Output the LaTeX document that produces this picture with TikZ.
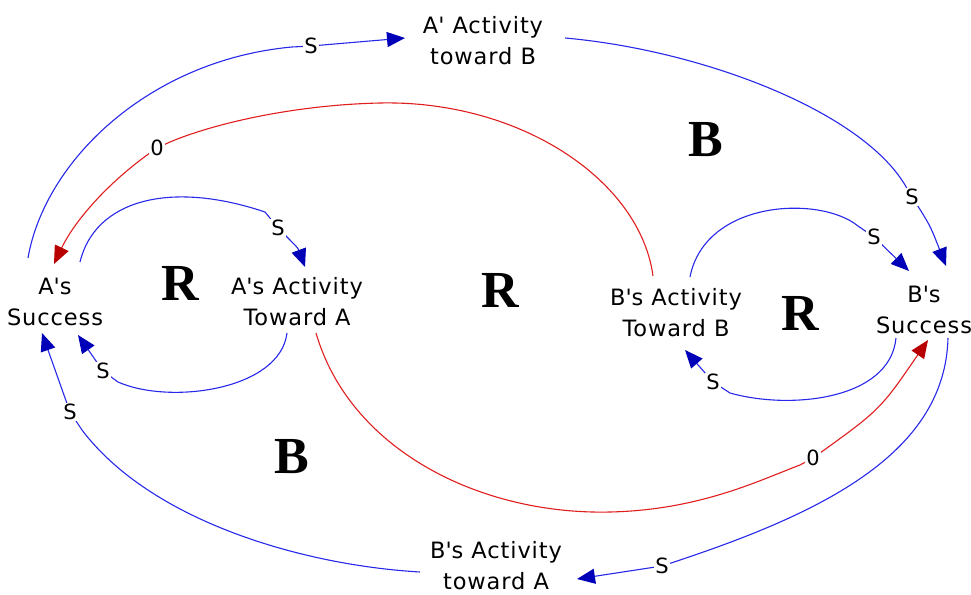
\documentclass[tikz,border=0pt]{standalone}
\usepackage{fontspec}
\setmainfont{DejaVu Sans}[LetterSpace=4]
\newfontfamily\bigserif{Liberation Serif}
\usetikzlibrary{arrows.meta}
\definecolor{lnblue}{RGB}{40,40,235}
\definecolor{hdblue}{RGB}{0,0,185}
\definecolor{lnred}{RGB}{225,30,30}
\definecolor{hdred}{RGB}{185,0,0}
\newcommand{\ap}{\textquotesingle}
\begin{document}
\begin{tikzpicture}[x=1pt,y=-1pt,
  var/.style={align=center,inner sep=0pt,font=\fontsize{22.5}{31}\selectfont},
  looplbl/.style={inner sep=0pt,font=\bigserif\bfseries\fontsize{52}{52}\selectfont},
  sgn/.style={fill=white,inner sep=1.5pt,font=\fontsize{21}{21}\selectfont},
  bluelink/.style={draw=lnblue,line width=1.1pt,-{Triangle[length=18pt,width=15pt,color=hdblue]}},
  redlink/.style={draw=lnred,line width=1.1pt,-{Triangle[length=18pt,width=15pt,color=hdred]}}]
\useasboundingbox (0,0) rectangle (971,594);
\fill[white] (0,0) rectangle (971,594);

% variables
\node[var] (as) at (55,302) {A\ap s\\Success};
\node[var] (aa) at (297,302) {A\ap s Activity\\Toward A};
\node[var] (bb) at (676,313) {B\ap s Activity\\Toward B};
\node[var] (bs) at (924,310) {B\ap s\\Success};
\node[var] (ab) at (483,41) {A\ap{} Activity\\toward B};
\node[var] (ba) at (496,566) {B\ap s Activity\\toward A};

% loop labels
\node[looplbl] (l1) at (706,140) {B};
\node[looplbl] (l2) at (180,283) {R};
\node[looplbl] (l3) at (500,290) {R};
\node[looplbl] (l4) at (800,313) {R};
\node[looplbl] (l5) at (292,457) {B};

% connector end points
\coordinate (as-o1) at (28,258);
\coordinate (ab-i) at (405,38);
\coordinate (ab-o) at (565,38);
\coordinate (bs-i1) at (946,266);
\coordinate (bb-o1) at (653,276);
\coordinate (as-i1) at (54,264);
\coordinate (as-o2) at (80,262);
\coordinate (aa-i) at (305,267);
\coordinate (aa-o1) at (287,333);
\coordinate (as-i2) at (78,335);
\coordinate (aa-o2) at (316,333);
\coordinate (bs-i2) at (928,340);
\coordinate (bb-o2) at (690,277);
\coordinate (bs-i3) at (909,271);
\coordinate (bs-o1) at (896,338);
\coordinate (bb-i) at (685,350);
\coordinate (bs-o2) at (948,338);
\coordinate (ba-i) at (577,579);
\coordinate (ba-o) at (420,572);
\coordinate (as-i3) at (42,333);

% connectors
\draw[bluelink] (as-o1) .. controls (45,160) and (150,60) .. (292,47)
  -- (311,46) node[sgn]{S} -- (ab-i);
\draw[bluelink] (ab-o) .. controls (700,50) and (860,110) .. (905,185)
  -- (912,197) node[sgn]{S} .. controls (930,225) .. (bs-i1);
\draw[redlink] (bb-o1) .. controls (640,180) and (520,100) .. (380,103)
  .. controls (290,105) and (210,125) .. (170,142)
  -- (157,148) node[sgn]{0} .. controls (110,180) and (75,220) .. (as-i1);
\draw[bluelink] (as-o2) .. controls (95,200) and (170,180) .. (265,212)
  -- (278,228) node[sgn]{S} .. controls (298,248) .. (aa-i);
\draw[bluelink] (aa-o1) .. controls (280,390) and (170,405) .. (118,382)
  -- (103,371) node[sgn]{S} -- (as-i2);
\draw[redlink] (aa-o2) .. controls (350,450) and (480,515) .. (610,512)
  .. controls (700,510) and (760,480) .. (800,465)
  -- (813,458) node[sgn]{0} .. controls (880,410) .. (bs-i2);
\draw[bluelink] (bb-o2) .. controls (705,200) and (820,195) .. (858,226)
  -- (874,237) node[sgn]{S} -- (bs-i3);
\draw[bluelink] (bs-o1) .. controls (890,400) and (790,410) .. (730,393)
  -- (713,382) node[sgn]{S} -- (bb-i);
\draw[bluelink] (bs-o2) .. controls (945,450) and (830,510) .. (680,560)
  -- (662,566) node[sgn]{S} -- (ba-i);
\draw[bluelink] (ba-o) .. controls (300,565) and (150,520) .. (82,430)
  -- (70,412) node[sgn]{S} -- (as-i3);
\end{tikzpicture}
\end{document}
